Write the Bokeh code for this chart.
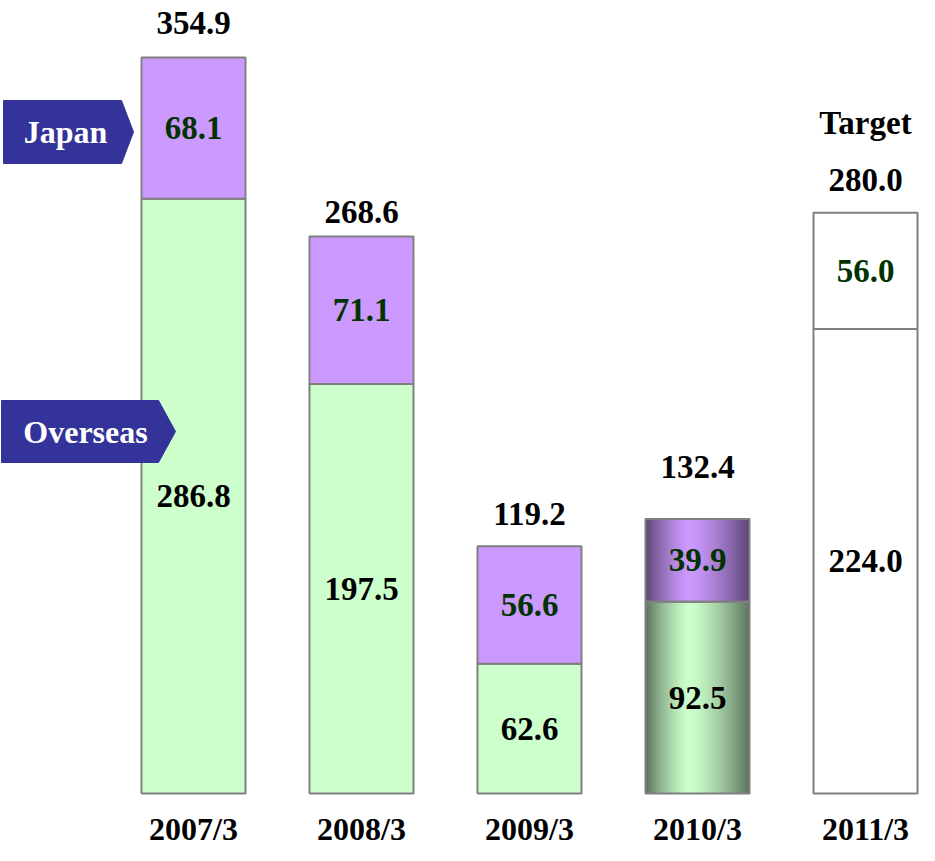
import numpy as np
from bokeh.plotting import figure
from bokeh.models import Range1d, ColumnDataSource
from bokeh.embed import file_html
from bokeh.resources import INLINE
from bokeh.core.properties import value

# ---- data ----
years = ["2007/3", "2008/3", "2009/3", "2010/3", "2011/3"]
overseas = [286.8, 197.5, 62.6, 92.5, 224.0]
japan = [68.1, 71.1, 56.6, 39.9, 56.0]
totals = [354.9, 268.6, 119.2, 132.4, 280.0]
target_label = "Target"

# ---- style ----
GREEN = "#ccffcc"
PURPLE = "#cc99ff"
BORDER = "#808080"
TAG = "#333399"
DKGREEN = "#003300"
FONT = value("Liberation Serif")
total_offsets = [35, 24, 32, 52, 33]       # px above bar top for total labels
overseas_fill = [GREEN, GREEN, GREEN, None, "white"]
japan_fill = [PURPLE, PURPLE, PURPLE, None, "white"]
gradient_bar = 3

W, H = 919, 845
PX_PER_X = 168.0
PX_PER_Y = 2.0738
BASE_PX = 793
X0_PX = 193.0
BAR_W = 104 / PX_PER_X

p = figure(width=W, height=H, output_backend="svg", toolbar_location=None,
           x_range=Range1d(-X0_PX / PX_PER_X, (W - X0_PX) / PX_PER_X),
           y_range=Range1d(-(H - BASE_PX) / PX_PER_Y, BASE_PX / PX_PER_Y),
           min_border=0, outline_line_color=None, background_fill_color="white")
p.axis.visible = False
p.grid.visible = False

xs = np.arange(len(years), dtype=float)
ov = np.array(overseas)
jp = np.array(japan)
tot = ov + jp

# flat bars
idx = [i for i in range(len(years)) if i != gradient_bar]
p.quad(left=xs[idx] - BAR_W / 2, right=xs[idx] + BAR_W / 2, bottom=0, top=ov[idx],
       fill_color=[overseas_fill[i] for i in idx], line_color=BORDER, line_width=2)
p.quad(left=xs[idx] - BAR_W / 2, right=xs[idx] + BAR_W / 2, bottom=ov[idx], top=tot[idx],
       fill_color=[japan_fill[i] for i in idx], line_color=BORDER, line_width=2)

# gradient bar (2010/3): vertical strips with shading
def hex2rgb(h):
    h = h.lstrip("#")
    return [int(h[k:k + 2], 16) for k in (0, 2, 4)]

N = 52
g = gradient_bar
lefts, rights, bots, tops, cols = [], [], [], [], []
for k in range(N):
    t = (k + 0.5) / N
    peak = 0.42
    d = (peak - t) / peak if t < peak else (t - peak) / (1 - peak)
    f = 1 - 0.55 * d ** 1.4
    l = xs[g] - BAR_W / 2 + k * BAR_W / N
    r = min(l + BAR_W / N * 1.8, xs[g] + BAR_W / 2)
    for (b, tp, base) in [(0, ov[g], GREEN), (ov[g], tot[g], PURPLE)]:
        rgb = hex2rgb(base)
        c = "#%02x%02x%02x" % tuple(int(round(v * f)) for v in rgb)
        lefts.append(l); rights.append(r); bots.append(b); tops.append(tp); cols.append(c)
p.quad(left=lefts, right=rights, bottom=bots, top=tops, fill_color=cols, line_color=None)
p.quad(left=[xs[g] - BAR_W / 2] * 2, right=[xs[g] + BAR_W / 2] * 2,
       bottom=[0, ov[g]], top=[ov[g], tot[g]], fill_color=None, line_color=BORDER, line_width=2)

# segment labels
p.text(x=xs, y=ov / 2, text=["%.1f" % v for v in overseas], text_align="center",
       text_baseline="middle", text_font=FONT, text_font_style="bold",
       text_font_size="33px", text_color="black")
p.text(x=xs, y=ov + jp / 2, text=["%.1f" % v for v in japan], text_align="center",
       text_baseline="middle", text_font=FONT, text_font_style="bold",
       text_font_size="33px", text_color=DKGREEN)

# total labels
src = ColumnDataSource(dict(x=xs, y=totals, text=["%.1f" % v for v in totals],
                            yo=[-o for o in total_offsets]))
p.text(x="x", y="y", text="text", y_offset="yo", source=src, text_align="center",
       text_baseline="middle", text_font=FONT, text_font_style="bold",
       text_font_size="33px", text_color="black")
p.text(x=[xs[-1]], y=[totals[-1]], text=[target_label], y_offset=-90, text_align="center",
       text_baseline="middle", text_font=FONT, text_font_style="bold",
       text_font_size="33px", text_color="black")

# category labels
p.text(x=xs, y=[0] * len(xs), text=years, y_offset=35, text_align="center",
       text_baseline="middle", text_font=FONT, text_font_style="bold",
       text_font_size="32px", text_color="black")

# legend tags (arrow-shaped)
def px_x(px):
    return (px - X0_PX) / PX_PER_X

def px_y(py):
    return (BASE_PX - py) / PX_PER_Y

def tag(label, left, body_r, tip, top, bottom, text_cx):
    mid = (top + bottom) / 2
    p.patch(x=[px_x(left), px_x(body_r), px_x(tip), px_x(body_r), px_x(left)],
            y=[px_y(top), px_y(top), px_y(mid), px_y(bottom), px_y(bottom)],
            fill_color=TAG, line_color=TAG)
    p.text(x=[px_x(text_cx)], y=[px_y(mid)], text=[label], text_align="center",
           text_baseline="middle", text_font=FONT, text_font_style="bold",
           text_font_size="32px", text_color="white")

tag("Japan", 3, 121, 133, 100, 163, 65)
tag("Overseas", 1, 158, 175, 400, 462, 85)

open("out.html", "w").write(file_html(p, INLINE))
